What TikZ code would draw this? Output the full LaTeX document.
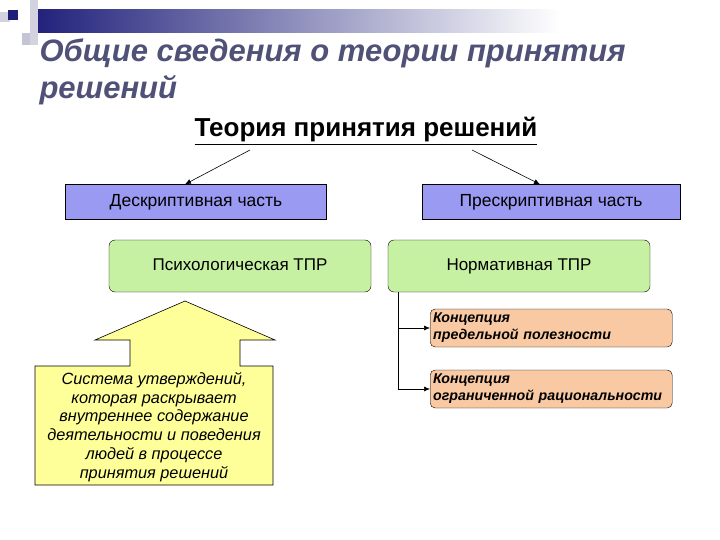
\documentclass[tikz,border=0pt]{standalone}
\usepackage{fontspec}
\setmainfont{Liberation Sans}
\usetikzlibrary{arrows.meta}
\definecolor{titlec}{HTML}{4F5276}
\definecolor{bluebox}{HTML}{9A9AF2}
\definecolor{greenbox}{HTML}{C6F0A2}
\definecolor{orangebox}{HTML}{F8C9A2}
\definecolor{yel}{HTML}{FFFF99}
\definecolor{navy}{HTML}{1F1F7A}
\tikzset{
 bluebx/.style={draw=black, fill=bluebox, minimum width=261pt, minimum height=35pt, text height=12pt, text depth=3pt, font=\fontsize{17.5}{20}\selectfont},
 greenbx/.style={draw=black, fill=greenbox, rounded corners=6pt, minimum width=262pt, minimum height=52pt, text height=12pt, text depth=3pt, font=\fontsize{17}{20}\selectfont},
 orbx/.style={draw=black, fill=orangebox, rounded corners=5pt, minimum width=242pt, minimum height=38pt, inner xsep=3pt, align=left, anchor=west, text width=236pt, font=\fontsize{14.2}{17}\selectfont\bfseries\itshape},
 conn/.style={draw=black, line width=0.6pt, -{Latex[length=6pt,width=5pt]}},
}
\begin{document}
\begin{tikzpicture}[x=1pt,y=-1pt]
\useasboundingbox (0,0) rectangle (720,540);
% decoration
\shade[left color=navy, right color=white] (30,10) rectangle (560,33);
\fill[white] (560,10) rectangle (720,33);
\fill[blue!15!gray!30] (30,0) rectangle (38,45);
\fill[blue!15!gray!30] (0,12) rectangle (10,22);
\fill[blue!15!gray!40] (22,33) rectangle (30,45);
\fill[navy] (8,10) rectangle (18,20);
% title
\node[anchor=west, text=titlec, font=\fontsize{31}{37}\selectfont\bfseries\itshape, align=left] (title) at (36,72) {Общие сведения о теории принятия\\решений};
\node[font=\fontsize{26}{28}\selectfont\bfseries] (theory) at (366,131) {\underline{Теория принятия решений}};
\node[bluebx] (desc) at (196,202) {Дескриптивная часть};
\node[bluebx, minimum width=258pt] (pres) at (551,202) {Прескриптивная часть};
\draw[conn] (250,150) -- (desc.north -| 185,0);
\draw[conn] (472,150) -- (pres.north -| 540,0);
\node[greenbx] (psy) at (240,266) {Психологическая ТПР};
\node[greenbx] (norm) at (519,266) {Нормативная ТПР};
\node[orbx] (c1) at (430,328) {Концепция\\предельной полезности};
\node[orbx] (c2) at (430,389) {Концепция\\ограниченной рациональности};
\coordinate (v) at (398,389);
\draw[line width=0.8pt] (norm.south -| 398,0) -- (v);
\draw[conn] (398,328) -- (c1.west);
\draw[conn] (v) -- (c2.west);
% yellow block arrow
\draw[fill=yel, line width=0.6pt] (185,301) -- (275,340) -- (240,340) -- (240,366) -- (273,366) -- (273,485) -- (35,485) -- (35,366) -- (130,366) -- (130,340) -- (95,340) -- cycle;
\node[font=\fontsize{16.3}{18.8}\selectfont\itshape, align=center] (sys) at (154,427) {Система утверждений,\\которая раскрывает\\внутреннее содержание\\деятельности и поведения\\людей в процессе\\принятия решений};
\end{tikzpicture}
\end{document}
